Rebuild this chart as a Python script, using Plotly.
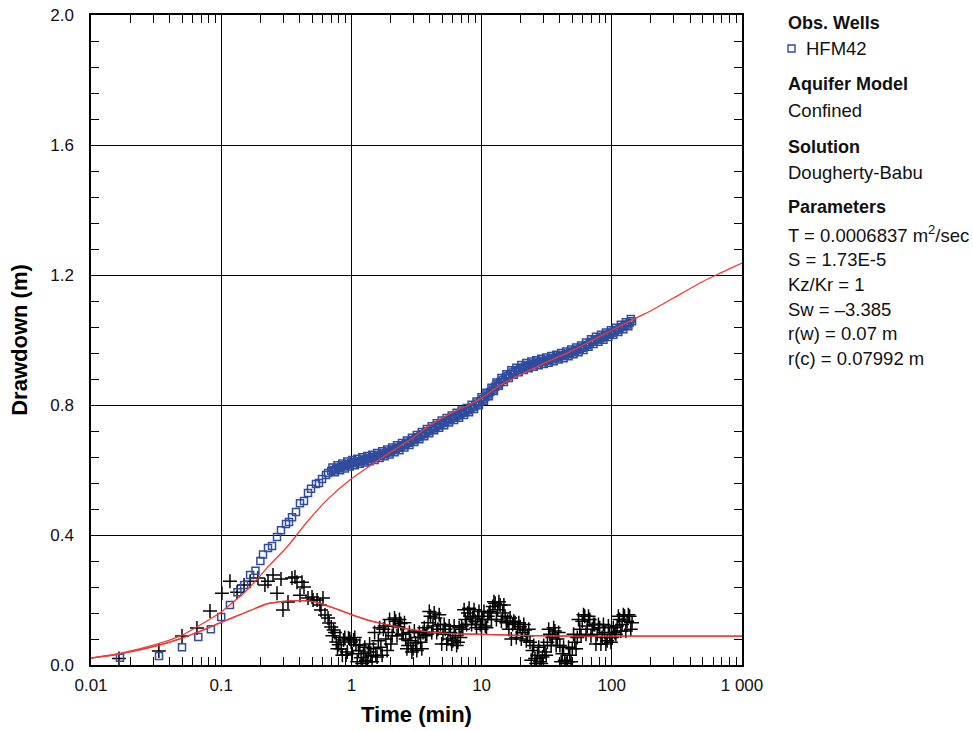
import plotly.graph_objects as go

# ---- observed drawdown, HFM42 (time in minutes, drawdown in metres) ----
t_early = [0.0167, 0.0333, 0.05, 0.0667, 0.0833, 0.1, 0.1167, 0.1333, 0.15, 0.1667,
           0.1833, 0.2, 0.2094, 0.2288, 0.2456, 0.2683, 0.2879, 0.3146, 0.3317, 0.3498,
           0.3754, 0.4029, 0.4324, 0.4642, 0.4895, 0.5348, 0.5639, 0.5946, 0.6382, 0.6613]
s_early = [0.022, 0.028, 0.055, 0.086, 0.110, 0.148, 0.185, 0.224, 0.246, 0.277,
           0.290, 0.320, 0.340, 0.360, 0.366, 0.394, 0.415, 0.434, 0.440, 0.455,
           0.471, 0.498, 0.505, 0.529, 0.542, 0.557, 0.560, 0.572, 0.585, 0.591]

t_late = [0.70, 0.73, 0.765, 0.80, 0.835, 0.87, 0.91, 0.95, 0.995, 1.04,
          1.085, 1.135, 1.185, 1.24, 1.295, 1.35, 1.41, 1.475, 1.54, 1.61,
          1.685, 1.76, 1.84, 1.92, 2.01, 2.1, 2.19, 2.29, 2.39, 2.5,
          2.61, 2.73, 2.85, 2.98, 3.11, 3.25, 3.4, 3.55, 3.71, 3.88,
          4.05, 4.23, 4.42, 4.62, 4.83, 5.05, 5.27, 5.51, 5.76, 6.02,
          6.29, 6.57, 6.87, 7.18, 7.5, 7.84, 8.19, 8.56, 8.94, 9.34,
          9.76, 10.2, 10.66, 11.14, 11.64, 12.17, 12.71, 13.29, 13.88, 14.51,
          15.16, 15.84, 16.55, 17.3, 18.08, 18.89, 19.74, 20.63, 21.56, 22.53,
          23.54, 24.6, 25.7, 26.86, 28.07, 29.33, 30.65, 32.03, 33.47, 34.98,
          36.55, 38.2, 39.92, 41.71, 43.59, 45.55, 47.6, 49.74, 51.98, 54.32,
          56.76, 59.32, 61.99, 64.78, 67.69, 70.74, 73.92, 77.25, 80.72, 84.36,
          88.15, 92.12, 96.27, 100.6, 105.1, 109.9, 114.8, 120.0, 125.4, 131.0,
          136.9, 143.1]
s_late = [0.597, 0.600, 0.604, 0.607, 0.609, 0.613, 0.615, 0.618, 0.621, 0.622,
          0.625, 0.627, 0.628, 0.631, 0.633, 0.635, 0.637, 0.639, 0.641, 0.644,
          0.647, 0.650, 0.652, 0.655, 0.658, 0.662, 0.665, 0.668, 0.672, 0.676,
          0.680, 0.684, 0.688, 0.692, 0.697, 0.701, 0.706, 0.710, 0.715, 0.719,
          0.724, 0.728, 0.733, 0.737, 0.741, 0.745, 0.749, 0.753, 0.757, 0.761,
          0.765, 0.768, 0.772, 0.776, 0.780, 0.784, 0.789, 0.794, 0.799, 0.805,
          0.811, 0.818, 0.825, 0.832, 0.840, 0.848, 0.856, 0.864, 0.871, 0.877,
          0.883, 0.889, 0.895, 0.900, 0.904, 0.908, 0.912, 0.915, 0.918, 0.921,
          0.923, 0.926, 0.928, 0.930, 0.932, 0.934, 0.936, 0.938, 0.940, 0.943,
          0.945, 0.947, 0.950, 0.952, 0.954, 0.957, 0.960, 0.963, 0.966, 0.969,
          0.972, 0.976, 0.980, 0.985, 0.990, 0.995, 0.999, 1.002, 1.005, 1.008,
          1.012, 1.016, 1.019, 1.022, 1.027, 1.031, 1.036, 1.040, 1.044, 1.048,
          1.053, 1.058]

t_mid = [0.715, 0.747, 0.782, 0.817, 0.852, 0.89, 0.93, 0.972, 1.017, 1.062,
         1.11, 1.16, 1.212, 1.267, 1.322, 1.38, 1.442, 1.507, 1.575, 1.647,
         1.722, 1.8, 1.88, 1.965, 2.055, 2.145, 2.24, 2.34, 2.445, 2.555,
         2.67, 2.79, 2.915, 3.045, 3.18, 3.325, 3.475, 3.63, 3.795, 3.965,
         4.14, 4.325, 4.52, 4.725, 4.94, 5.16, 5.39, 5.635, 5.89, 6.155,
         6.43, 6.72, 7.025, 7.34, 7.67, 8.015, 8.375, 8.75, 9.14, 9.55,
         9.98, 10.43, 10.9, 11.39, 11.9, 12.44, 13.0, 13.58, 14.19, 14.83,
         15.5, 16.2, 16.92, 17.69, 18.48, 19.31, 20.18, 21.09, 22.04, 23.03,
         24.07, 25.15, 26.28, 27.46, 28.7, 29.99, 31.34, 32.75, 34.22, 35.76,
         37.37, 39.06, 40.81, 42.65, 44.57, 46.57, 48.67, 50.86, 53.14, 55.54,
         58.04, 60.65, 63.38, 66.22, 69.2, 72.32, 75.57, 78.97, 82.52, 86.24,
         90.12, 94.18, 98.42, 102.8, 107.5, 112.3, 117.4, 122.7, 128.2, 134.0,
         140.0]
s_mid = [0.608, 0.593, 0.615, 0.599, 0.620, 0.605, 0.626, 0.611, 0.631, 0.615,
         0.635, 0.619, 0.639, 0.623, 0.643, 0.627, 0.647, 0.631, 0.652, 0.637,
         0.658, 0.642, 0.663, 0.648, 0.669, 0.655, 0.676, 0.661, 0.683, 0.669,
         0.691, 0.677, 0.699, 0.686, 0.708, 0.695, 0.717, 0.704, 0.726, 0.713,
         0.735, 0.722, 0.744, 0.730, 0.752, 0.738, 0.760, 0.746, 0.768, 0.754,
         0.776, 0.761, 0.783, 0.769, 0.791, 0.778, 0.801, 0.788, 0.811, 0.799,
         0.824, 0.813, 0.838, 0.827, 0.853, 0.843, 0.869, 0.859, 0.883, 0.871,
         0.895, 0.883, 0.907, 0.893, 0.915, 0.901, 0.923, 0.908, 0.929, 0.913,
         0.934, 0.918, 0.938, 0.922, 0.942, 0.926, 0.946, 0.930, 0.951, 0.935,
         0.955, 0.940, 0.960, 0.944, 0.965, 0.950, 0.971, 0.956, 0.977, 0.962,
         0.983, 0.969, 0.992, 0.979, 1.002, 0.988, 1.010, 0.995, 1.016, 1.001,
         1.023, 1.009, 1.030, 1.016, 1.038, 1.025, 1.047, 1.033, 1.055, 1.042,
         1.065]

# ---- observed drawdown derivative ----
td_early = [0.0164, 0.0332, 0.05, 0.0651, 0.082, 0.1013, 0.1167, 0.1324, 0.1499, 0.1667,
            0.1916, 0.2167, 0.2288, 0.25, 0.2683, 0.2879, 0.2982, 0.3258, 0.3498, 0.3686,
            0.382, 0.4029, 0.4175, 0.4324, 0.4642, 0.4985, 0.5073, 0.5452, 0.5738, 0.584,
            0.6049, 0.6269, 0.6613, 0.674]
d_early = [0.020, 0.043, 0.089, 0.114, 0.166, 0.221, 0.258, 0.224, 0.246, 0.258,
           0.268, 0.246, 0.258, 0.277, 0.221, 0.265, 0.169, 0.194, 0.268, 0.271,
           0.255, 0.215, 0.255, 0.240, 0.206, 0.209, 0.200, 0.200, 0.185, 0.169,
           0.206, 0.154, 0.145, 0.129]
d_late = [0.117, 0.108, 0.071, 0.062, 0.049, 0.077, 0.031, 0.083, 0.071, 0.077,
          0.062, 0.045, 0.022, 0.035, 0.015, 0.040, 0.028, 0.050, 0.030, 0.075,
          0.055, 0.110, 0.080, 0.100, 0.065, 0.120, 0.135, 0.118, 0.128, 0.095,
          0.080, 0.060, 0.075, 0.050, 0.068, 0.085, 0.070, 0.100, 0.090, 0.130,
          0.150, 0.120, 0.145, 0.110, 0.125, 0.095, 0.110, 0.080, 0.100, 0.075,
          0.090, 0.070, 0.085, 0.110, 0.140, 0.160, 0.150, 0.145, 0.135, 0.150,
          0.125, 0.140, 0.120, 0.150, 0.165, 0.180, 0.190, 0.170, 0.185, 0.160,
          0.150, 0.135, 0.145, 0.125, 0.130, 0.110, 0.118, 0.100, 0.108, 0.090,
          0.070, 0.045, 0.020, 0.030, 0.010, 0.025, 0.040, 0.070, 0.095, 0.085,
          0.105, 0.080, 0.060, 0.035, 0.015, 0.010, 0.030, 0.050, 0.070, 0.085,
          0.110, 0.135, 0.150, 0.120, 0.140, 0.110, 0.125, 0.095, 0.115, 0.085,
          0.100, 0.075, 0.095, 0.085, 0.100, 0.120, 0.140, 0.125, 0.150, 0.135,
          0.150, 0.130]
d_mid = [0.090, 0.100, 0.050, 0.085, 0.030, 0.085, 0.040, 0.080, 0.035, 0.085,
         0.010, 0.060, 0.005, 0.055, 0.010, 0.065, 0.010, 0.100, 0.025, 0.115,
         0.030, 0.120, 0.045, 0.140, 0.090, 0.145, 0.090, 0.140, 0.095, 0.130,
         0.050, 0.100, 0.040, 0.105, 0.045, 0.100, 0.050, 0.115, 0.095, 0.165,
         0.100, 0.160, 0.100, 0.155, 0.065, 0.125, 0.065, 0.120, 0.065, 0.120,
         0.060, 0.115, 0.120, 0.170, 0.125, 0.175, 0.125, 0.170, 0.115, 0.165,
         0.110, 0.165, 0.115, 0.160, 0.140, 0.195, 0.140, 0.195, 0.135, 0.185,
         0.130, 0.110, 0.080, 0.135, 0.085, 0.130, 0.080, 0.125, 0.075, 0.110,
         0.015, 0.060, 0.005, 0.055, 0.005, 0.060, 0.030, 0.110, 0.060, 0.115,
         0.060, 0.100, 0.010, 0.055, 0.005, 0.055, 0.010, 0.095, 0.050, 0.140,
         0.090, 0.155, 0.095, 0.150, 0.090, 0.125, 0.065, 0.125, 0.065, 0.125,
         0.065, 0.120, 0.070, 0.115, 0.095, 0.150, 0.105, 0.155, 0.105, 0.155,
         0.110]

# ---- Dougherty-Babu type curve and its derivative ----
t_fit = [0.01, 0.0167, 0.034, 0.05, 0.065, 0.1, 0.158, 0.2, 0.224, 0.32,
         0.45, 0.65, 1.0, 1.5, 2.0, 3.0, 4.0, 5.0, 6.0, 8.0,
         10, 14, 20, 30, 50, 70, 100, 150, 200, 300, 500, 700, 1000]
s_fit = [0.022, 0.036, 0.067, 0.092, 0.117, 0.163, 0.231, 0.275, 0.298, 0.363,
         0.437, 0.508, 0.573, 0.622, 0.655, 0.700, 0.738, 0.760, 0.778, 0.800,
         0.822, 0.862, 0.893, 0.928, 0.968, 0.998, 1.030, 1.066, 1.090, 1.130,
         1.180, 1.208, 1.237]
t_dfit = [0.01, 0.0167, 0.034, 0.05, 0.065, 0.1, 0.15, 0.225, 0.3, 0.4,
          0.5, 0.7, 1.0, 1.4, 2.0, 3.0, 5.0, 10, 20, 50, 100, 1000]
d_fit = [0.021, 0.034, 0.062, 0.083, 0.100, 0.131, 0.160, 0.188, 0.196, 0.198,
         0.196, 0.178, 0.155, 0.136, 0.122, 0.108, 0.098, 0.094, 0.091, 0.089,
         0.089, 0.089]

x_ticks = [0.01, 0.1, 1, 10, 100, 1000]
x_labels = ["0.01", "0.1", "1", "10", "100", "1 000"]
y_ticks = [0.0, 0.4, 0.8, 1.2, 1.6, 2.0]

BLUE = "#2F4C9F"
RED = "#EE3B36"
FONT = "Liberation Sans, Arial, sans-serif"

fig = go.Figure()
fig.add_trace(go.Scatter(x=t_dfit, y=d_fit, mode="lines",
                         line=dict(color=RED, width=1.3, shape="spline", smoothing=0.6),
                         hoverinfo="skip", showlegend=False))
fig.add_trace(go.Scatter(x=td_early + t_late + t_mid, y=d_early + d_late + d_mid, mode="markers",
                         marker=dict(symbol="cross-thin", size=10, line=dict(color="black", width=1.5)),
                         showlegend=False))
fig.add_trace(go.Scatter(x=t_early + t_late + t_mid, y=s_early + s_late + s_mid, mode="markers",
                         marker=dict(symbol="square-open", size=7, color=BLUE, line=dict(color=BLUE, width=1.5)),
                         name="HFM42", showlegend=False))
# fitted curves are drawn on top of the data
fig.add_trace(go.Scatter(x=t_dfit, y=d_fit, mode="lines",
                         line=dict(color=RED, width=1.3, shape="spline", smoothing=0.6),
                         hoverinfo="skip", showlegend=False))
fig.add_trace(go.Scatter(x=t_fit, y=s_fit, mode="lines",
                         line=dict(color=RED, width=1.3, shape="spline", smoothing=0.6),
                         hoverinfo="skip", showlegend=False))

L, R, TOP, BOT = 91, 742, 15, 665
W, H = 973, 731

axis_common = dict(
    showline=True, linecolor="black", linewidth=1.5, mirror="allticks",
    ticks="inside", ticklen=16, tickwidth=1.2, tickcolor="black",
    showgrid=True, gridcolor="black", gridwidth=1,
    zeroline=False,
    tickfont=dict(family=FONT, size=17, color="#111"),
)

fig.update_xaxes(type="log", range=[-2, 3], tickvals=x_ticks, ticktext=x_labels,
                 minor=dict(ticks="inside", ticklen=8, tickwidth=1, tickcolor="black", dtick="D1", showgrid=False),
                 ticklabelstandoff=4,
                 title=dict(text="<b>Time (min)</b>", font=dict(family=FONT, size=22, color="black"), standoff=12),
                 **axis_common)
fig.update_yaxes(range=[0, 2], tickvals=y_ticks, tickformat=".1f",
                 minor=dict(ticks="inside", ticklen=8, tickwidth=1, tickcolor="black", dtick=0.08, showgrid=False),
                 ticklabelstandoff=12,
                 title=dict(text="<b>Drawdown (m)</b>", font=dict(family=FONT, size=22, color="black"), standoff=17),
                 **axis_common)

# side panel text
def px(xp):
    return (xp - L) / (R - L)

def py(yp):
    return (BOT - yp) / (BOT - TOP)

panel = [
    ("<b>Obs. Wells</b>", 786, 23, 18),
    ("HFM42", 804, 48, 18.5),
    ("<b>Aquifer Model</b>", 786, 84, 18),
    ("Confined", 786, 110, 18.5),
    ("<b>Solution</b>", 786, 147, 18),
    ("Dougherty-Babu", 786, 172, 18.5),
    ("<b>Parameters</b>", 786, 207, 18),
    ("T = 0.0006837 m<sup>2</sup>/sec", 786, 234, 18.5),
    ("S = 1.73E-5", 786, 259, 18.5),
    ("Kz/Kr = 1", 786, 284, 18.5),
    ("Sw = \u20133.385", 786, 309, 18.5),
    ("r(w) = 0.07 m", 786, 333, 18.5),
    ("r(c) = 0.07992 m", 786, 358, 18.5),
]
for text, xp, yp, fs in panel:
    fig.add_annotation(text=text, x=px(xp), y=py(yp), xref="paper", yref="paper",
                       xanchor="left", yanchor="middle", showarrow=False,
                       font=dict(family=FONT, size=fs, color="#111"))

fig.add_shape(type="rect", xref="paper", yref="paper",
              x0=px(788), x1=px(795), y0=py(52), y1=py(45),
              line=dict(color=BLUE, width=1.4), fillcolor="rgba(0,0,0,0)")

fig.update_layout(
    width=W, height=H,
    margin=dict(l=L, r=W - R, t=TOP, b=H - BOT, autoexpand=False),
    paper_bgcolor="white", plot_bgcolor="white",
    font=dict(family=FONT, color="black"),
)

fig.write_html("out.html")
